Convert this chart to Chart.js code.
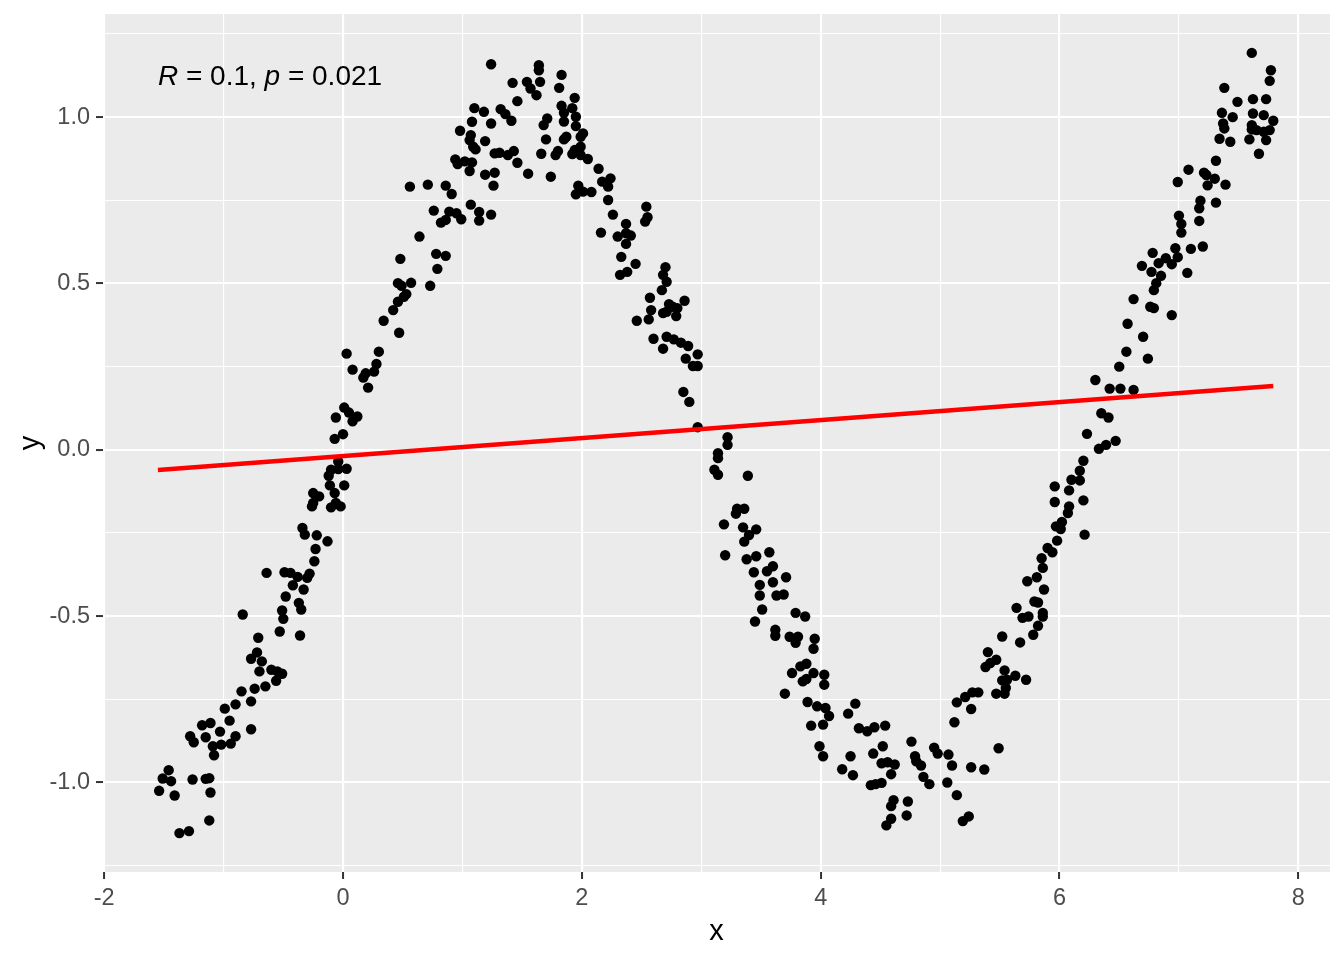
<!DOCTYPE html>
<html>
<head>
<meta charset="utf-8">
<script src="https://cdn.jsdelivr.net/npm/chart.js@4.4.1/dist/chart.umd.min.js"></script>
<style>
  html, body { margin: 0; padding: 0; background: #ffffff; }
  canvas { display: block; }
</style>
</head>
<body>
<canvas id="chart" width="1344" height="960"></canvas>
<script>
// points, [x, y]
const risingLeft = [
  [-0.24,-0.335],[-0.64,-0.370],[-0.49,-0.368],[-0.44,-0.370],[-0.38,-0.382],[-0.30,-0.385],[-0.28,-0.372],
  [-0.42,-0.407],[-0.33,-0.420],[-0.48,-0.441],[-0.37,-0.460],[-0.35,-0.480],[-0.84,-0.495],[-0.51,-0.483],
  [-0.50,-0.508],[-0.53,-0.546],[-0.36,-0.558],[-0.71,-0.565],[-0.72,-0.609],[-0.77,-0.628],[-0.68,-0.636],
  [-0.70,-0.666],[-0.60,-0.661],[-0.55,-0.666],[-0.51,-0.673],[-0.56,-0.694],[-0.65,-0.711],[-0.74,-0.718],
  [-0.85,-0.726],[-0.90,-0.765],[-0.77,-0.756],[-0.99,-0.778],[-0.95,-0.814],[-1.18,-0.828],[-1.11,-0.821],
  [-1.03,-0.847],[-0.77,-0.840],[-1.28,-0.861],[-1.25,-0.879],[-1.15,-0.864],[-0.90,-0.861],[-1.09,-0.891],
  [-1.02,-0.886],[-0.94,-0.883],[-1.08,-0.918],[-1.46,-0.963],[-1.51,-0.988],[-1.44,-0.996],[-1.26,-0.991],
  [-1.15,-0.989],[-1.12,-0.987],[-1.54,-1.025],[-1.41,-1.039],[-1.11,-1.030],[-1.12,-1.114],[-1.37,-1.152],
  [-1.29,-1.146],
  [0.48,0.574],[0.78,0.589],[0.86,0.583],[0.79,0.544],[0.46,0.501],[0.49,0.493],[0.57,0.502],[0.73,0.493],
  [0.53,0.468],[0.51,0.460],[0.46,0.445],[0.42,0.420],[0.34,0.388],[0.47,0.352],[0.03,0.289],[0.30,0.295],
  [0.28,0.258],[0.26,0.235],[0.08,0.241],[0.19,0.230],[0.17,0.217],[0.21,0.187],[0.01,0.127],[0.05,0.112],
  [-0.06,0.097],[0.12,0.100],[0.08,0.086],[0.00,0.047],[-0.07,0.033],[-0.04,-0.035],[-0.10,-0.060],
  [-0.12,-0.078],[-0.04,-0.058],[0.03,-0.057],[-0.11,-0.107],[0.01,-0.107],[-0.25,-0.130],[-0.20,-0.140],
  [-0.26,-0.170],[-0.25,-0.160],[-0.07,-0.130],[-0.06,-0.160],[-0.10,-0.173],[-0.02,-0.170],[-0.34,-0.235],
  [-0.32,-0.255],[-0.22,-0.257],[-0.13,-0.275],[-0.23,-0.298],[0.64,0.641]
];

const peak = [
  [1.24,1.159],[1.64,1.156],[1.64,1.141],[1.83,1.127],[1.42,1.103],[1.54,1.106],[1.57,1.086],[1.62,1.066],
  [1.65,1.106],[1.81,1.088],[1.94,1.058],[1.46,1.048],[1.10,1.027],[1.18,1.016],[1.32,1.024],[1.36,1.009],
  [1.41,0.989],[1.83,1.034],[1.85,1.013],[1.92,1.027],[1.95,1.001],[1.08,0.986],[1.24,0.981],[1.71,0.996],
  [1.68,0.976],[1.85,0.987],[1.95,0.973],[0.98,0.959],[1.07,0.946],[1.06,0.931],[1.19,0.928],[1.09,0.911],
  [1.11,0.903],[1.70,0.933],[1.85,0.933],[1.87,0.941],[1.99,0.941],[2.01,0.951],[1.27,0.891],[1.31,0.893],
  [1.38,0.886],[1.43,0.898],[1.66,0.890],[1.80,0.898],[1.78,0.886],[1.94,0.901],[1.99,0.911],[1.92,0.889],
  [1.99,0.886],[2.05,0.874],[0.94,0.873],[0.96,0.859],[1.02,0.867],[1.08,0.864],[1.06,0.838],[1.46,0.863],
  [2.14,0.845],[1.19,0.827],[1.27,0.833],[1.55,0.830],[1.74,0.821],[2.17,0.806],[2.24,0.816],[2.22,0.791],
  [1.26,0.794],[0.56,0.791],[0.71,0.797],[0.86,0.794],[0.91,0.769],[1.97,0.794],[1.95,0.768],[2.01,0.776],
  [2.08,0.775],[2.22,0.751],[1.07,0.737],[0.76,0.719],[0.89,0.716],[0.95,0.711],[0.86,0.691],[0.82,0.683],
  [0.99,0.693],[1.14,0.715],[1.14,0.689],[1.24,0.707],[2.26,0.707],[2.37,0.679],[2.16,0.653],[2.30,0.641],
  [2.37,0.651],[2.37,0.619],[2.33,0.580],[2.32,0.526],[2.38,0.535],[2.54,0.731],[2.55,0.699],[2.53,0.686],
  [2.41,0.644]
];

const falling = [
  [2.45,0.559],[2.70,0.549],[2.68,0.526],[2.71,0.505],[2.67,0.480],[2.57,0.457],[2.86,0.448],[2.73,0.438],
  [2.80,0.426],[2.76,0.430],[2.68,0.411],[2.79,0.402],[2.71,0.415],[2.58,0.420],[2.46,0.388],[2.56,0.392],
  [2.60,0.334],[2.71,0.340],[2.77,0.332],[2.83,0.322],[2.89,0.312],[2.68,0.304],[2.97,0.287],[2.87,0.274],
  [2.93,0.252],[2.97,0.252],[2.85,0.174],[2.90,0.144],[2.97,0.068],[3.22,0.038],[3.22,0.015],[3.14,-0.010],
  [3.14,-0.025],[3.11,-0.060],[3.14,-0.075],[3.39,-0.078],[3.30,-0.177],[3.36,-0.177],[3.29,-0.192],
  [3.19,-0.224],[3.35,-0.233],[3.46,-0.239],[3.40,-0.256],[3.36,-0.276],[3.20,-0.317],[3.38,-0.329],
  [3.46,-0.320],[3.57,-0.308],[3.44,-0.368],[3.55,-0.365],[3.60,-0.350],[3.71,-0.383],[3.49,-0.406],
  [3.60,-0.398],[3.49,-0.438],[3.63,-0.438],[3.69,-0.435],[3.51,-0.480],[3.45,-0.516],[3.79,-0.490],
  [3.87,-0.501],[3.62,-0.541],[3.62,-0.559],[3.74,-0.562],[3.81,-0.562],[3.79,-0.580],[3.95,-0.568],
  [3.94,-0.598],[3.83,-0.651],[3.88,-0.643],[3.76,-0.671],[3.94,-0.671],[4.03,-0.676],[3.85,-0.696],
  [3.88,-0.689],[4.03,-0.706],[3.70,-0.733],[3.89,-0.758],[3.97,-0.771],[4.04,-0.776],[4.07,-0.800]
];

const trough = [
  [4.29,-0.763],[4.23,-0.793],[3.92,-0.829],[4.02,-0.826],[4.32,-0.837],[4.39,-0.846],[4.45,-0.834],
  [4.54,-0.829],[3.99,-0.891],[4.02,-0.921],[4.25,-0.921],[4.44,-0.913],[4.52,-0.891],[4.51,-0.942],
  [4.56,-0.939],[4.62,-0.946],[4.18,-0.960],[4.27,-0.978],[4.59,-0.975],[4.42,-1.008],[4.46,-1.005],
  [4.51,-1.001],[4.76,-0.877],[4.95,-0.895],[4.98,-0.913],[4.79,-0.921],[4.80,-0.936],[4.84,-0.949],
  [5.07,-0.916],[5.10,-0.949],[4.86,-0.983],[4.91,-1.005],[5.06,-1.000],[5.26,-0.954],[5.37,-0.961],
  [5.14,-1.038],[4.61,-1.053],[4.59,-1.071],[4.73,-1.057],[4.72,-1.099],[4.59,-1.109],[4.55,-1.129],
  [5.24,-1.102],[5.19,-1.116],[5.14,-0.759],[5.21,-0.743],[5.27,-0.729],[5.32,-0.729],[5.26,-0.779],
  [5.12,-0.819],[5.49,-0.897]
];

const risingRight = [
  [5.52,-0.561],[5.40,-0.608],[5.47,-0.631],[5.42,-0.641],[5.38,-0.653],[5.54,-0.663],[5.56,-0.691],
  [5.63,-0.679],[5.52,-0.693],[5.55,-0.716],[5.47,-0.733],[5.54,-0.733],[5.67,-0.579],[5.72,-0.691],
  [6.23,0.048],[6.33,0.003],[6.39,0.015],[6.47,0.027],[6.20,-0.033],[6.17,-0.063],[6.10,-0.090],
  [6.17,-0.092],[5.96,-0.110],[6.08,-0.122],[5.96,-0.157],[6.08,-0.170],[6.07,-0.190],[6.20,-0.152],
  [6.02,-0.217],[5.97,-0.230],[6.01,-0.238],[6.21,-0.255],[5.98,-0.273],[5.90,-0.295],[5.94,-0.308],
  [5.85,-0.326],[5.86,-0.355],[5.81,-0.383],[5.73,-0.395],[5.87,-0.420],[5.79,-0.456],[5.82,-0.459],
  [5.64,-0.475],[5.86,-0.490],[5.86,-0.501],[5.69,-0.505],[5.74,-0.501],[5.82,-0.529],[5.78,-0.556]
];

const topRight = [
  [7.02,0.679],[7.02,0.653],[7.17,0.688],[6.97,0.606],[7.10,0.604],[7.20,0.611],[6.78,0.592],[6.89,0.576],
  [6.83,0.561],[6.99,0.579],[6.94,0.558],[6.69,0.553],[6.77,0.535],[7.07,0.532],[6.85,0.523],[6.81,0.501],
  [6.79,0.480],[6.62,0.453],[6.76,0.430],[6.79,0.426],[6.94,0.405],[6.57,0.379],[6.70,0.340],[6.56,0.295],
  [6.74,0.274],[6.50,0.250],[6.30,0.210],[6.42,0.184],[6.51,0.184],[6.62,0.180],[6.35,0.110],[6.41,0.097],
  [7.61,1.193],[7.77,1.141],[7.76,1.109],[7.38,1.088],[7.49,1.046],[7.62,1.054],[7.73,1.054],[7.36,1.013],
  [7.45,1.000],[7.62,1.011],[7.71,1.006],[7.79,0.989],[7.37,0.981],[7.38,0.966],[7.61,0.976],[7.61,0.963],
  [7.65,0.961],[7.71,0.956],[7.76,0.961],[7.34,0.935],[7.43,0.926],[7.59,0.933],[7.73,0.931],[7.67,0.890],
  [7.31,0.869],[7.08,0.842],[7.21,0.833],[7.23,0.826],[7.30,0.815],[6.99,0.805],[7.24,0.795],[7.39,0.797],
  [7.18,0.749],[7.17,0.726],[7.31,0.743],[7.00,0.704]
];

// fitted line end points
const fitX = [-1.55, 7.79];
const fitY = [-0.061, 0.192];

const xMajor = [-2, 0, 2, 4, 6, 8];
const xMinor = [-1, 1, 3, 5, 7];
const yMajor = [-1, -0.5, 0, 0.5, 1];
const yMinor = [-1.25, -0.75, -0.25, 0.25, 0.75, 1.25];
const yLabels = ["-1.0", "-0.5", "0.0", "0.5", "1.0"];

const corText = [["R", "italic"], [" = 0.1, ", "normal"], ["p", "italic"], [" = 0.021", "normal"]];
const corPos = { x: -1.55, y: 1.12 };

const FONT = "'Liberation Sans', Arial, sans-serif";

const points = [...risingLeft, ...peak, ...falling, ...trough, ...risingRight, ...topRight].map(([x, y]) => ({ x, y }));
const fitLine = fitX.map((x, i) => ({ x, y: fitY[i] }));

const panel = {
  id: "panel",
  beforeDraw(chart) {
    const { ctx, chartArea: a } = chart;
    ctx.save();
    ctx.fillStyle = "#ffffff";
    ctx.fillRect(0, 0, chart.width, chart.height);
    ctx.fillStyle = "#ebebeb";
    ctx.fillRect(a.left, a.top, a.right - a.left, a.bottom - a.top);
    ctx.restore();
  },
  afterDatasetsDraw(chart) {
    const { ctx, scales } = chart;
    let px = scales.x.getPixelForValue(corPos.x);
    const py = scales.y.getPixelForValue(corPos.y);
    ctx.save();
    ctx.fillStyle = "#000000";
    ctx.textBaseline = "middle";
    ctx.textAlign = "left";
    corText.forEach(([txt, style]) => {
      ctx.font = `${style} 28px ${FONT}`;
      ctx.fillText(txt, px, py);
      px += ctx.measureText(txt).width;
    });
    ctx.restore();
  },
};

const has = (arr, v) => arr.some((m) => Math.abs(m - v) < 1e-9);

new Chart(document.getElementById("chart"), {
  type: "scatter",
  data: {
    datasets: [
      {
        type: "line",
        data: fitLine,
        borderColor: "#ff0000",
        borderWidth: 4.5,
        pointRadius: 0,
        fill: false,
        order: 0,
      },
      {
        data: points,
        backgroundColor: "#000000",
        borderWidth: 0,
        pointRadius: 5.2,
        order: 1,
      },
    ],
  },
  options: {
    responsive: false,
    animation: false,
    devicePixelRatio: 1,
    layout: { padding: { top: 14, right: 14, left: 0, bottom: 0 } },
    plugins: { legend: { display: false }, tooltip: { enabled: false } },
    scales: {
      x: {
        type: "linear",
        min: -2.01,
        max: 8.265,
        afterBuildTicks: (s) => { s.ticks = [...xMajor, ...xMinor].sort((a, b) => a - b).map((value) => ({ value })); },
        afterFit: (s) => { s.height = 88; s.paddingLeft = 0; s.paddingRight = 0; },
        border: { display: false },
        grid: {
          color: "#ffffff",
          lineWidth: (c) => (c.tick && has(xMajor, c.tick.value) ? 2.1 : 1.1),
          tickColor: (c) => (c.tick && has(xMajor, c.tick.value) ? "#333333" : "rgba(0,0,0,0)"),
          tickLength: 7,
          tickWidth: 2,
        },
        ticks: {
          autoSkip: false,
          maxRotation: 0,
          padding: 5,
          color: "#4d4d4d",
          font: { family: FONT, size: 23.5 },
          callback: (v) => (has(xMajor, v) ? String(v) : ""),
        },
        title: { display: true, text: "x", color: "#000000", font: { family: FONT, size: 29 }, padding: { top: 0, bottom: 11 } },
      },
      y: {
        type: "linear",
        min: -1.269,
        max: 1.31,
        afterBuildTicks: (s) => { s.ticks = [...yMajor, ...yMinor].sort((a, b) => a - b).map((value) => ({ value })); },
        afterFit: (s) => { s.width = 103; s.paddingTop = 0; s.paddingBottom = 0; },
        border: { display: false },
        grid: {
          color: "#ffffff",
          lineWidth: (c) => (c.tick && has(yMajor, c.tick.value) ? 2.1 : 1.1),
          tickColor: (c) => (c.tick && has(yMajor, c.tick.value) ? "#333333" : "rgba(0,0,0,0)"),
          tickLength: 7,
          tickWidth: 2,
        },
        ticks: {
          autoSkip: false,
          padding: 6,
          color: "#4d4d4d",
          font: { family: FONT, size: 23.5 },
          callback: (v) => {
            const i = yMajor.findIndex((m) => Math.abs(m - v) < 1e-9);
            return i >= 0 ? yLabels[i] : "";
          },
        },
        title: { display: true, text: "y", color: "#000000", font: { family: FONT, size: 29 }, padding: { top: 14, bottom: 0 } },
      },
    },
  },
  plugins: [panel],
});
</script>
</body>
</html>
